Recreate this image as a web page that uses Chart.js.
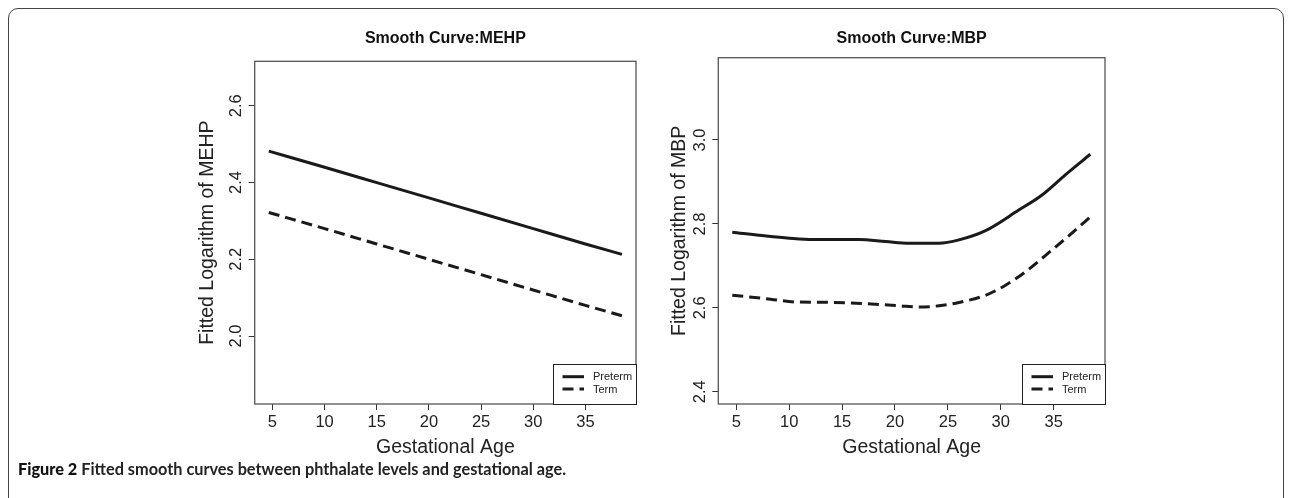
<!DOCTYPE html>
<html>
<head>
<meta charset="utf-8">
<script src="https://cdn.jsdelivr.net/npm/chart.js@4.4.0/dist/chart.umd.min.js"></script>
<style>
  html, body { margin:0; padding:0; background:#fff; }
  body { width:1290px; height:498px; overflow:hidden; position:relative; }
  #frame { position:absolute; left:8px; top:8px; width:1276px; height:560px; border:1px solid #444; border-radius:10px; box-sizing:border-box; }
  #c1 { position:absolute; left:140px; top:0; }
  #c2 { position:absolute; left:660px; top:0; }
  #caption { position:absolute; left:18px; top:459px; font-family:"Lato","Liberation Sans",sans-serif; font-size:16.3px; color:#222; white-space:nowrap; font-weight:700; }
  #caption b { font-weight:900; color:#111; }
</style>
</head>
<body>
<div id="frame"></div>
<canvas id="c1" width="520" height="470"></canvas>
<canvas id="c2" width="540" height="470"></canvas>
<div id="caption"><b>Figure 2</b> Fitted smooth curves between phthalate levels and gestational age.</div>
<script>
// ---------- data ----------
const seriesNames = ['Preterm', 'Term'];

const mehpAge = [4.65, 10, 15, 20, 25, 30, 35, 38.5];
const mehpPreterm = [2.482, 2.440, 2.400, 2.360, 2.320, 2.280, 2.240, 2.213];
const mehpTerm = [2.322, 2.280, 2.240, 2.200, 2.160, 2.120, 2.080, 2.053];

const mbpAgePreterm = [4.62, 7.83, 10.02, 12.22, 16.62, 19.14, 21.33, 24.16, 26.05, 28.56, 31.70, 33.90, 36.10, 38.46];
const mbpPreterm = [2.780, 2.771, 2.766, 2.763, 2.763, 2.758, 2.754, 2.754, 2.762, 2.784, 2.833, 2.869, 2.917, 2.966];
const mbpAgeTerm = [4.62, 7.83, 10.65, 14.10, 17.25, 20.39, 22.28, 24.16, 26.05, 28.56, 30.45, 32.33, 34.84, 36.72, 38.46];
const mbpTerm = [2.630, 2.622, 2.614, 2.613, 2.610, 2.605, 2.602, 2.605, 2.613, 2.630, 2.654, 2.686, 2.738, 2.778, 2.817];

const xTicks = [5, 10, 15, 20, 25, 30, 35];
const xTickLabels = ['5', '10', '15', '20', '25', '30', '35'];
const mehpYTicks = [2.0, 2.2, 2.4, 2.6];
const mehpYTickLabels = ['2.0', '2.2', '2.4', '2.6'];
const mbpYTicks = [2.4, 2.6, 2.8, 3.0];
const mbpYTickLabels = ['2.4', '2.6', '2.8', '3.0'];

const titles = ['Smooth Curve:MEHP', 'Smooth Curve:MBP'];
const yTitles = ['Fitted Logarithm of MEHP', 'Fitted Logarithm of MBP'];
const xTitle = 'Gestational Age';

// ---------- helpers ----------
const FONT = '"Liberation Sans", Arial, Helvetica, sans-serif';
const INK = '#1a1a1a';
const pts = (xs, ys) => xs.map((x, i) => ({x: x, y: ys[i]}));

const plotBox = {
  id: 'plotBox',
  afterDraw(chart) {
    const {ctx, chartArea: a} = chart;
    ctx.save();
    ctx.strokeStyle = '#555';
    ctx.lineWidth = 1.3;
    ctx.strokeRect(a.left, a.top, a.right - a.left, a.bottom - a.top);
    ctx.restore();
  }
};

const panelTitle = {
  id: 'panelTitle',
  afterDraw(chart, args, opts) {
    const {ctx, chartArea: a} = chart;
    ctx.save();
    ctx.font = 'bold 16px ' + FONT;
    ctx.fillStyle = '#111';
    ctx.textAlign = 'center';
    ctx.textBaseline = 'middle';
    ctx.fillText(opts.text, (a.left + a.right) / 2, opts.y);
    ctx.restore();
  }
};

const boxLegend = {
  id: 'boxLegend',
  afterDraw(chart, args, opts) {
    const {ctx, chartArea: a} = chart;
    const w = opts.width, h = opts.height;
    const x0 = a.right - w, y0 = a.bottom - h;
    ctx.save();
    ctx.fillStyle = '#fff';
    ctx.fillRect(x0, y0, w, h);
    ctx.strokeStyle = '#222';
    ctx.lineWidth = 1;
    ctx.strokeRect(x0 + 0.5, y0 + 0.5, w, h);
    chart.data.datasets.forEach((ds, i) => {
      const y = y0 + opts.rows[i];
      ctx.beginPath();
      ctx.setLineDash(ds.borderDash || []);
      ctx.lineWidth = ds.borderWidth;
      ctx.strokeStyle = ds.borderColor;
      ctx.moveTo(x0 + 9.5, y);
      ctx.lineTo(x0 + 31, y);
      ctx.stroke();
      ctx.setLineDash([]);
      ctx.fillStyle = '#222';
      ctx.font = '11px ' + FONT;
      ctx.textAlign = 'left';
      ctx.textBaseline = 'middle';
      ctx.fillText(ds.label, x0 + 40, y + 0.5);
    });
    ctx.restore();
  }
};

function makeChart(id, cfg) {
  const ds = cfg.series.map((s, i) => ({
    label: seriesNames[i],
    data: s,
    borderColor: INK,
    borderWidth: 3,
    borderDash: i === 1 ? [11, 6] : [],
    pointRadius: 0,
    fill: false,
    cubicInterpolationMode: 'monotone'
  }));
  return new Chart(document.getElementById(id), {
    type: 'line',
    data: {datasets: ds},
    plugins: [plotBox, panelTitle, boxLegend],
    options: {
      responsive: false,
      animation: false,
      devicePixelRatio: 1,
      layout: {padding: {left: 0, right: cfg.padRight, top: cfg.top, bottom: 0}},
      plugins: {
        legend: {display: false},
        tooltip: {enabled: false},
        panelTitle: {text: cfg.title, y: 39},
        boxLegend: {width: 83, height: 40, rows: [12.7, 25]}
      },
      scales: {
        x: {
          type: 'linear',
          min: 3.3, max: 39.85,
          afterBuildTicks: (s) => { s.ticks = xTicks.map(v => ({value: v})); },
          afterFit: (s) => { s.height = 66; },
          grid: {display: true, drawOnChartArea: false, drawTicks: true, tickLength: 6, color: '#333', lineWidth: 1},
          border: {display: false},
          ticks: {
            color: '#222', font: {family: FONT, size: 16.5}, padding: 3,
            maxRotation: 0, autoSkip: false,
            callback: (v, i) => xTickLabels[i]
          },
          title: {display: true, text: xTitle, color: '#222', font: {family: FONT, size: 19.5, lineHeight: 1.2}, padding: {top: 0, bottom: 10.3}}
        },
        y: {
          type: 'linear',
          min: cfg.yMin, max: cfg.yMax,
          afterBuildTicks: (s) => { s.ticks = cfg.yTicks.map(v => ({value: v})); },
          afterFit: (s) => { s.width = cfg.yWidth; },
          grid: {display: true, drawOnChartArea: false, drawTicks: true, tickLength: 6, color: '#333', lineWidth: 1},
          border: {display: false},
          ticks: {
            color: '#222', font: {family: FONT, size: 16.5}, padding: cfg.yTickPad,
            minRotation: 90, maxRotation: 90, crossAlign: 'center', autoSkip: false,
            callback: (v, i) => cfg.yTickLabels[i]
          },
          title: {display: true, text: cfg.yTitle, color: '#222', font: {family: FONT, size: 19.5, lineHeight: 1.2}, padding: {top: cfg.yTitlePad, bottom: 0}}
        }
      }
    }
  });
}

makeChart('c1', {
  series: [pts(mehpAge, mehpPreterm), pts(mehpAge, mehpTerm)],
  title: titles[0], yTitle: yTitles[0],
  yMin: 1.823, yMax: 2.716, yTicks: mehpYTicks, yTickLabels: mehpYTickLabels,
  yWidth: 114.7, padRight: 24, top: 61.3, yTickPad: 0.5, yTitlePad: 56.3
});

makeChart('c2', {
  series: [pts(mbpAgePreterm, mbpPreterm), pts(mbpAgeTerm, mbpTerm)],
  title: titles[1], yTitle: yTitles[1],
  yMin: 2.371, yMax: 3.196, yTicks: mbpYTicks, yTickLabels: mbpYTickLabels,
  yWidth: 58.3, padRight: 95, top: 57.7, yTickPad: 0.8, yTitlePad: 8.3
});
</script>
</body>
</html>
